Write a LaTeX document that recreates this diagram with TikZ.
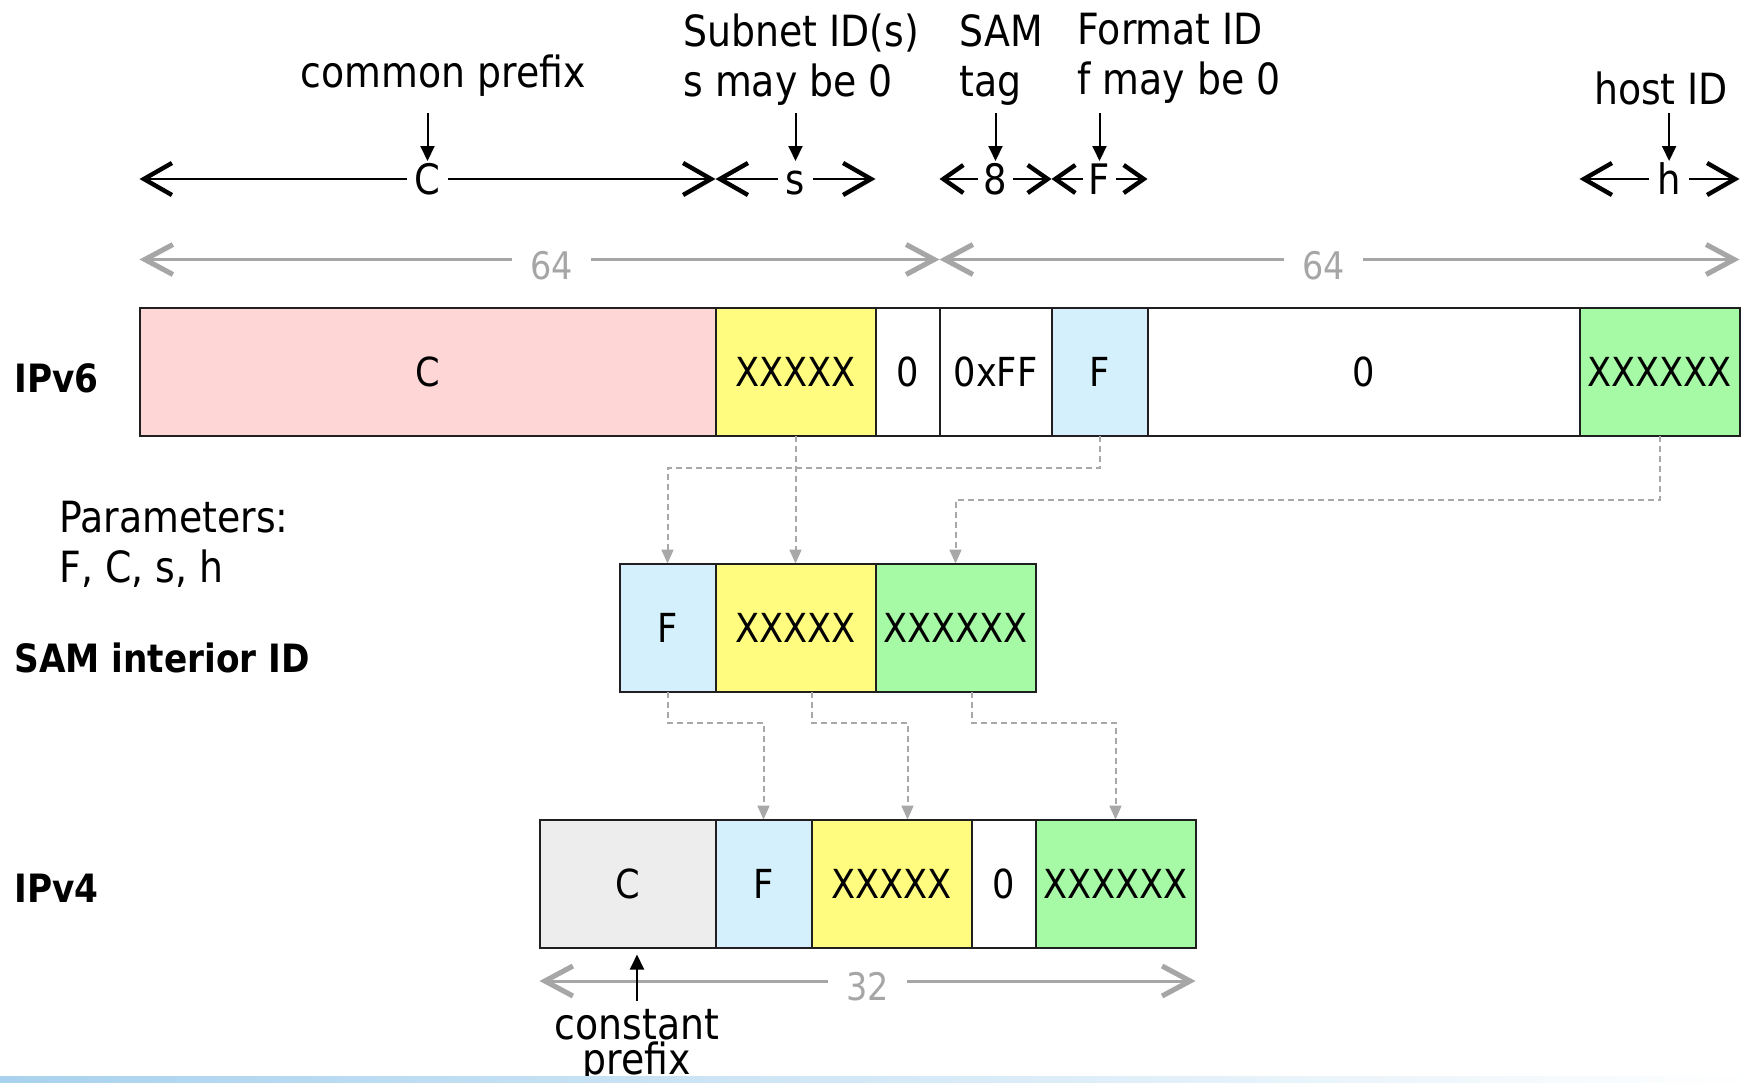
\documentclass[tikz,border=0pt]{standalone}
\usepackage{fontspec}
\setmainfont[FakeStretch=0.88]{DejaVu Sans}
\usetikzlibrary{arrows.meta, positioning, calc}

\definecolor{prefixpink}{HTML}{FFD6D6}
\definecolor{subnetyellow}{HTML}{FFFC80}
\definecolor{formatblue}{HTML}{D5F0FD}
\definecolor{hostgreen}{HTML}{A6FAA6}
\definecolor{constgray}{HTML}{EDEDED}
\definecolor{bitgray}{HTML}{A6A6A6}
\definecolor{flowgray}{HTML}{A8A8A8}
\definecolor{stripblue}{HTML}{A9D2EE}

\tikzstyle{field} = [rectangle, draw=black!88, line width=1pt, fill=white, minimum height=64pt, inner sep=0pt, outer sep=0pt, font=\fontsize{20}{24}\selectfont]
\tikzstyle{rowlabel} = [anchor=base west, inner sep=0pt, font=\fontsize{19.5}{24}\selectfont\bfseries]
\tikzstyle{captext} = [inner sep=0pt, align=left, font=\fontsize{21.5}{25}\selectfont]
\tikzstyle{sizespan} = [draw, line width=1pt, arrows={Straight Barb[length=14pt,width=16pt,line width=0pt 2.2]-Straight Barb[length=14pt,width=16pt,line width=0pt 2.2]}]
\tikzstyle{smallspan} = [draw, line width=1pt, arrows={Straight Barb[length=10pt,width=14pt,line width=0pt 2.2]-Straight Barb[length=10pt,width=14pt,line width=0pt 2.2]}]
\tikzstyle{spanlabel} = [fill=white, inner xsep=4pt, inner ysep=1pt, text height=15pt, text depth=0pt, font=\fontsize{21}{25}\selectfont]
\tikzstyle{bits} = [draw=bitgray, line width=1.5pt, arrows={Straight Barb[length=14pt,width=15pt,line width=0pt 1.7]-Straight Barb[length=14pt,width=15pt,line width=0pt 1.7]}]
\tikzstyle{bitslabel} = [fill=white, text=bitgray, inner xsep=9pt, inner ysep=0pt, yshift=-3pt, font=\fontsize{19}{23}\selectfont]
\tikzstyle{pointer} = [draw, line width=1pt, -{Triangle[length=7.5pt,width=7pt]}]
\tikzstyle{flow} = [draw=flowgray, line width=1pt, dash pattern=on 3pt off 2pt, -{Triangle[length=7pt,width=6pt]}]

\begin{document}
\begin{tikzpicture}[x=0.5pt, y=-0.5pt, node distance=0pt]
        \useasboundingbox (0,0) rectangle (1754,1082);

        % IPv6 address
        \node (v6C) [field, fill=prefixpink, minimum width=288pt, anchor=north west] at (139.5,307.5) {C};
        \node (v6s) [field, fill=subnetyellow, minimum width=80pt, right=of v6C] {XXXXX};
        \node (v6z) [field, minimum width=32pt, right=of v6s] {0};
        \node (v6tag) [field, minimum width=56pt, right=of v6z] {0xFF};
        \node (v6F) [field, fill=formatblue, minimum width=48pt, right=of v6tag] {F};
        \node (v6zero) [field, minimum width=216pt, right=of v6F] {0};
        \node (v6h) [field, fill=hostgreen, minimum width=80pt, right=of v6zero] {XXXXXX};

        % SAM interior ID
        \node (samF) [field, fill=formatblue, minimum width=48pt, below left=64pt and 0pt of v6s.south west] {F};
        \node (samS) [field, fill=subnetyellow, minimum width=80pt, right=of samF] {XXXXX};
        \node (samH) [field, fill=hostgreen, minimum width=80pt, right=of samS] {XXXXXX};

        % IPv4 address
        \node (v4F) [field, fill=formatblue, minimum width=48pt, below right=64pt and 0pt of samF.south east] {F};
        \node (v4C) [field, fill=constgray, minimum width=88pt, left=of v4F] {C};
        \node (v4S) [field, fill=subnetyellow, minimum width=80pt, right=of v4F] {XXXXX};
        \node (v4z) [field, minimum width=32pt, right=of v4S] {0};
        \node (v4H) [field, fill=hostgreen, minimum width=80pt, right=of v4z] {XXXXXX};

        % row names
        \node (lblv6) [rowlabel] at (14,392) {IPv6};
        \node (params) [captext, anchor=north west] at (59,501) {Parameters:\\F, C, s, h};
        \node (lblsam) [rowlabel] at (14,672) {SAM interior ID};
        \node (lblv4) [rowlabel] at (14,902) {IPv4};

        % field sizes
        \coordinate (spanrow) at (0,179);
        \coordinate (bitrow) at (0,259.5);
        \coordinate (v4row) at (0,981);

        \path [sizespan] (v6C.west |- spanrow) -- (v6C.east |- spanrow) node[spanlabel, midway] (lblC) {C};
        \path [sizespan] (v6s.west |- spanrow) -- (v6s.east |- spanrow) node[spanlabel, midway] (lblS) {s};
        \path [smallspan] (v6tag.west |- spanrow) -- (v6tag.east |- spanrow) node[spanlabel, inner xsep=3pt, midway] (lblTag) {8};
        \path [smallspan] (v6F.west |- spanrow) -- (v6F.east |- spanrow) node[spanlabel, inner xsep=3pt, midway] (lblF) {F};
        \path [sizespan] (v6h.west |- spanrow) -- (v6h.east |- spanrow) node[spanlabel, pos=0.56] (lblH) {h};

        \path [bits] (v6C.west |- bitrow) -- (v6tag.west |- bitrow) node[bitslabel, pos=0.515] {64};
        \path [bits] (v6tag.west |- bitrow) -- (v6h.east |- bitrow) node[bitslabel, pos=0.48] {64};
        \path [bits] (v4C.west |- v4row) -- (v4H.east |- v4row) node[bitslabel, midway] {32};

        % captions
        \node (capC) [captext, anchor=base] at (443,87) {common prefix};
        \node (capS) [captext, anchor=north west] at (683,13) {Subnet ID(s)\\s may be 0};
        \node (capTag) [captext, anchor=north west] at (959,14) {SAM\\tag};
        \node (capF) [captext, anchor=north west] at (1077,13) {Format ID\\f may be 0};
        \node (capH) [captext, anchor=base] at (1661,104) {host ID};

        \path [pointer] (lblC.north) ++(0,-48) -- (lblC.north);
        \path [pointer] (lblS.north) ++(0,-48) -- (lblS.north);
        \path [pointer] (lblTag.north) ++(0,-48) -- (lblTag.north);
        \path [pointer] (lblF.north) ++(0,-48) -- (lblF.north);
        \path [pointer] (lblH.north) ++(0,-48) -- (lblH.north);

        \node (constcap) [captext, align=center, anchor=north, font=\fontsize{21.5}{16.5}\selectfont] at (637,1009) {constant\\prefix};
        \path [pointer, shorten >=3.5pt] ([yshift=4pt]constcap.north) -- (constcap.north |- v4C.south);

        % bit mapping
        \path [flow] (v6F.south) -- ++(0,32) -| (samF.north);
        \path [flow] (v6s.south) -- (samS.north);
        \path [flow] (v6h.south) -- ++(0,64) -| (samH.north);
        \path [flow] (samF.south) -- ++(0,31) -| (v4F.north);
        \path [flow] ([xshift=8pt]samS.south) -- ++(0,31) -| ([xshift=8pt]v4S.north);
        \path [flow] ([xshift=8pt]samH.south) -- ++(0,31) -| (v4H.north);

        \shade [left color=stripblue, right color=white] (0,1076) rectangle (1754,1082);

    \end{tikzpicture}
\end{document}
